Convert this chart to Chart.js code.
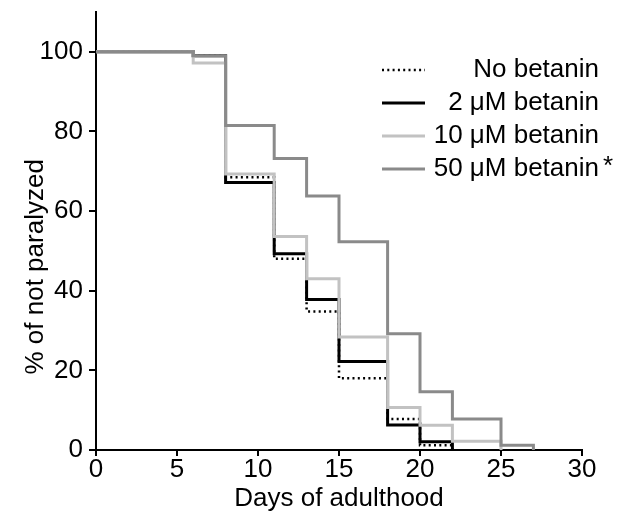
<!DOCTYPE html>
<html>
<head>
<meta charset="utf-8">
<script src="https://cdn.jsdelivr.net/npm/chart.js@4.4.1/dist/chart.umd.min.js"></script>
<style>
  html, body { margin: 0; padding: 0; background: #fff; }
  #wrap { width: 617px; height: 518px; }
</style>
</head>
<body>
<div id="wrap"><canvas id="chart"></canvas></div>
<script>
// survival (paralysis) curves
let seriesNames = ['No betanin', '2 \u03bcM betanin', '10 \u03bcM betanin', '50 \u03bcM betanin'];

let daysNone = [0, 6, 8, 11, 13, 15, 18, 20, 22];
let valsNone = [100, 99, 68.5, 48.0, 34.8, 18.0, 7.8, 1.2, 0];

let days2 = [0, 6, 8, 11, 13, 15, 18, 20, 22];
let vals2 = [100, 99, 67.2, 49.3, 37.8, 22.2, 6.3, 2.1, 0];

let days10 = [0, 6, 8, 11, 13, 15, 18, 20, 22, 25];
let vals10 = [100, 97.2, 69.3, 53.6, 43.0, 28.4, 10.7, 6.2, 2.2, 0];

let days50 = [0, 6, 8, 11, 13, 15, 18, 20, 22, 25, 27];
let vals50 = [100, 99.0, 81.5, 73.2, 63.8, 52.3, 29.2, 14.6, 7.8, 1.2, 0];

let xTicks = [0, 5, 10, 15, 20, 25, 30];
let yTicks = [0, 20, 40, 60, 80, 100];

const FONT = "'Liberation Sans', Arial, sans-serif";
const Y_TITLE = '% of not paralyzed';

function pts(xs, ys) {
  return xs.map((x, i) => ({ x: x, y: ys[i] }));
}

const datasets = [
  { label: seriesNames[0], data: pts(daysNone, valsNone), borderColor: '#000', borderWidth: 2.5, borderDash: [2, 3.3], order: 2 },
  { label: seriesNames[1], data: pts(days2, vals2), borderColor: '#000', borderWidth: 3, order: 3 },
  { label: seriesNames[2], data: pts(days10, vals10), borderColor: '#c2c2c2', borderWidth: 3, order: 1 },
  { label: seriesNames[3], data: pts(days50, vals50), borderColor: '#8a8a8a', borderWidth: 3, order: 0, star: true }
].map(d => Object.assign(d, { stepped: 'before', pointRadius: 0, fill: false }));

// legend drawn inside the plot, text right aligned like the figure,
// plus the y title which sits a bit below the middle of the axis
const insideLegend = {
  id: 'insideLegend',
  afterDraw(chart) {
    const ctx = chart.ctx;
    ctx.save();
    ctx.font = '26px ' + FONT;
    ctx.textBaseline = 'middle';
    const rows = [70, 103, 136, 169];
    chart.data.datasets.forEach((ds, i) => {
      const y = rows[i];
      ctx.beginPath();
      ctx.strokeStyle = ds.borderColor;
      ctx.lineWidth = ds.borderWidth;
      ctx.setLineDash(ds.borderDash || []);
      ctx.moveTo(382, y);
      ctx.lineTo(425, y);
      ctx.stroke();
      ctx.setLineDash([]);
      ctx.fillStyle = '#000';
      ctx.textAlign = 'right';
      ctx.fillText(ds.label, 599, y);
      if (ds.star) {
        ctx.textAlign = 'left';
        ctx.fillText('*', 603, y - 2);
      }
    });

    const ys = chart.scales.y;
    ctx.translate(36, ys.getPixelForValue(46));
    ctx.rotate(-Math.PI / 2);
    ctx.textAlign = 'center';
    ctx.fillStyle = '#000';
    ctx.fillText(Y_TITLE, 0, 0);
    ctx.restore();
  }
};

new Chart(document.getElementById('chart'), {
  type: 'line',
  data: { datasets: datasets },
  options: {
    responsive: true,
    maintainAspectRatio: false,
    animation: false,
    layout: { padding: { left: 0, right: 35, top: 12, bottom: 0 } },
    plugins: { legend: { display: false }, tooltip: { enabled: false } },
    scales: {
      x: {
        type: 'linear',
        min: 0,
        max: 30,
        afterBuildTicks: s => { s.ticks = xTicks.map(v => ({ value: v })); },
        afterFit: s => { s.height = 68; },
        border: { display: true, color: '#000', width: 2 },
        grid: { drawOnChartArea: false, drawTicks: true, tickLength: 6, color: '#000', lineWidth: 2 },
        ticks: { color: '#000', font: { family: FONT, size: 26 }, padding: -2, maxRotation: 0 },
        title: { display: true, text: 'Days of adulthood', color: '#000', font: { family: FONT, size: 26 }, padding: { top: 0, bottom: 4 } }
      },
      y: {
        min: 0,
        max: 110,
        afterBuildTicks: s => { s.ticks = yTicks.map(v => ({ value: v })); },
        afterFit: s => { s.width = 96; s.paddingTop = 0; s.paddingBottom = 0; },
        border: { display: true, color: '#000', width: 2 },
        grid: { drawOnChartArea: false, drawTicks: true, tickLength: 7, color: '#000', lineWidth: 2 },
        ticks: { color: '#000', font: { family: FONT, size: 26 }, padding: 6 },
        title: { display: false }
      }
    }
  },
  plugins: [insideLegend]
});
</script>
</body>
</html>
